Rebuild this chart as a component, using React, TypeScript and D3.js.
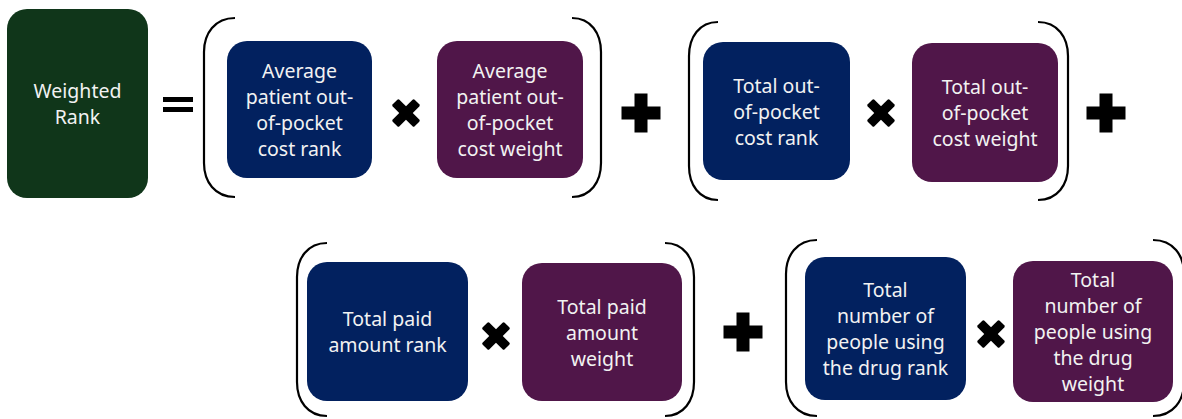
import React from 'react';
import * as d3 from 'd3';

// labels of the formula
const resultLabel = ['Weighted', 'Rank'];
const rankLabels = [
  ['Average', 'patient out-', 'of-pocket', 'cost rank'],
  ['Total out-', 'of-pocket', 'cost rank'],
  ['Total paid', 'amount rank'],
  ['Total', 'number of', 'people using', 'the drug rank'],
];
const weightLabels = [
  ['Average', 'patient out-', 'of-pocket', 'cost weight'],
  ['Total out-', 'of-pocket', 'cost weight'],
  ['Total paid', 'amount', 'weight'],
  ['Total', 'number of', 'people using', 'the drug', 'weight'],
];

// layout (pixel geometry of each term)
const layout = [
  { paren: [203, 235, 572, 602, 18, 197], rank: [227, 41, 372, 178], times: [406, 113], weight: [437, 41, 583, 178], plus: [641, 113] },
  { paren: [688, 718, 1038, 1069, 22, 200], rank: [703, 42, 850, 180], times: [881, 113], weight: [912, 43, 1058, 182], plus: [1106, 113] },
  { paren: [296, 327, 665, 695, 243, 416], rank: [307, 262, 468, 401], times: [496, 336], weight: [522, 263, 682, 401], plus: [743, 332] },
  { paren: [785, 817, 1153, 1185, 240, 416], rank: [805, 257, 966, 400], times: [991, 334], weight: [1013, 261, 1173, 402], plus: null },
];

const GREEN = '#10361a';
const NAVY = '#02215f';
const PURPLE = '#501649';
const FONT = '"Noto Sans", "Open Sans", sans-serif';
const LINE_H = 26;

const Box = ({ r, fill, lines }: { r: number[]; fill: string; lines: string[] }) => {
  const [x0, y0, x1, y1] = r;
  const cx = (x0 + x1) / 2;
  const cy = (y0 + y1) / 2;
  return (
    <g>
      <rect x={x0} y={y0} width={x1 - x0} height={y1 - y0} rx={20} ry={20} fill={fill} />
      {lines.map((t, i) => (
        <text
          key={i}
          x={cx}
          y={cy + (i - (lines.length - 1) / 2) * LINE_H}
          textAnchor="middle"
          dominantBaseline="central"
          fill="#f2f2f2"
          fontFamily={FONT}
          fontSize={19.5}
        >
          {t}
        </text>
      ))}
    </g>
  );
};

const Plus = ({ c }: { c: number[] }) => {
  const L = 39, t = 13;
  return (
    <g transform={`translate(${c[0]},${c[1]})`} fill="#000">
      <rect x={-L / 2} y={-t / 2} width={L} height={t} />
      <rect x={-t / 2} y={-L / 2} width={t} height={L} />
    </g>
  );
};

const Times = ({ c }: { c: number[] }) => {
  const L = 31, t = 9.5;
  return (
    <g transform={`translate(${c[0]},${c[1]}) rotate(45)`} fill="#000">
      <rect x={-L / 2} y={-t / 2} width={L} height={t} rx={1.5} />
      <rect x={-t / 2} y={-L / 2} width={t} height={L} rx={1.5} />
    </g>
  );
};

const parenPath = (xEnd: number, xEdge: number, y0: number, y1: number) => {
  const p = d3.path();
  const ry = 34;
  p.moveTo(xEnd, y0);
  p.bezierCurveTo(xEdge + (xEnd - xEdge) * 0.35, y0, xEdge, y0 + ry * 0.45, xEdge, y0 + ry);
  p.lineTo(xEdge, y1 - ry);
  p.bezierCurveTo(xEdge, y1 - ry * 0.45, xEdge + (xEnd - xEdge) * 0.35, y1, xEnd, y1);
  return p.toString();
};

export default function App() {
  return (
    <svg width={1182} height={419} style={{ position: 'absolute', left: 0, top: 0, background: '#fff' }}>
      <Box r={[7, 9, 148, 198]} fill={GREEN} lines={resultLabel} />
      <g fill="#000">
        <rect x={163} y={97} width={30} height={5} />
        <rect x={163} y={107} width={30} height={5} />
      </g>
      {layout.map((g, i) => {
        const [lx0, lx1, rx0, rx1, y0, y1] = g.paren;
        return (
          <g key={i}>
            <path d={parenPath(lx1, lx0 + 1, y0, y1)} fill="none" stroke="#000" strokeWidth={2.2} />
            <path d={parenPath(rx0, rx1 - 1, y0, y1)} fill="none" stroke="#000" strokeWidth={2.2} />
            <Box r={g.rank} fill={NAVY} lines={rankLabels[i]} />
            <Times c={g.times} />
            <Box r={g.weight} fill={PURPLE} lines={weightLabels[i]} />
            {g.plus && <Plus c={g.plus} />}
          </g>
        );
      })}
    </svg>
  );
}
